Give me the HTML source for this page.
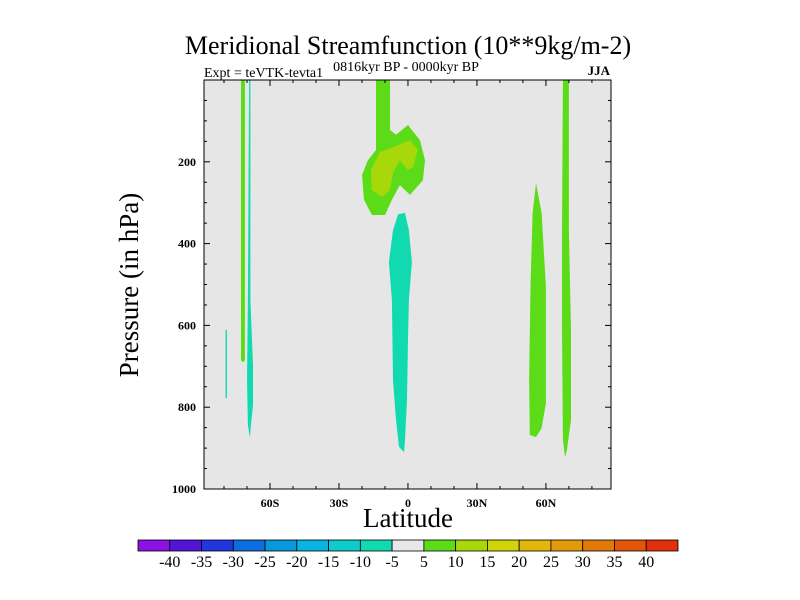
<!DOCTYPE html>
<html><head><meta charset="utf-8"><style>
body{margin:0;background:#fff;}
svg{display:block;font-family:"Liberation Serif",serif;}
</style></head><body>
<svg id="c" width="800" height="600" xmlns="http://www.w3.org/2000/svg">
<text x="408" y="54" font-size="26" text-anchor="middle">Meridional Streamfunction (10**9kg/m-2)</text>
<text x="204" y="77" font-size="14">Expt = teVTK-tevta1</text>
<text x="406" y="71" font-size="14" text-anchor="middle">0816kyr BP - 0000kyr BP</text>
<text x="610" y="75" font-size="13" text-anchor="end" font-weight="bold">JJA</text>
<text x="408" y="527" font-size="27" text-anchor="middle">Latitude</text>
<text transform="translate(138,285) rotate(-90)" font-size="27" text-anchor="middle">Pressure (in hPa)</text>
<g id="plot"></g>
<g id="cbar"></g>
</svg>
<script>
const latMin=-88.7, latMax=88.3, pTop=0, pBot=1000;
const X0=204, X1=611, Y0=80, Y1=489;
const xTickVals=[-60,-30,0,30,60];
const xTickLabels=["60S","30S","0","30N","60N"];
const yTickVals=[200,400,600,800,1000];
const levels=[-40,-35,-30,-25,-20,-15,-10,-5,5,10,15,20,25,30,35,40];
const levelColors=["#8a12e2","#5414d8","#2236de","#0c6ede","#0a98dc","#0ab4e2","#0ccccc","#12dab0","#e8e8e8","#5cdc18","#a6d80a","#d2d40a","#e2b60a","#e29a0a","#e27a0a","#e2560a","#e2300a"];
const regionBands=[9,10,7,7,9,9,7,9];
const regionShapes=[
 [[-13.9,0],[-7.8,0],[-7.8,122],[-5.2,134],[0,110],[5.2,147],[7.4,196],[6.5,245],[0.9,281],[-3.5,257],[-7.0,293],[-10,330],[-15.7,330],[-19.1,293],[-20,232],[-17.4,196],[-13.9,171]],
 [[-16.1,220],[-12.2,176],[-6.5,164],[0.9,147],[4.3,171],[2.2,213],[0,220],[-3.5,196],[-6.5,227],[-7.8,269],[-11.3,286],[-15.7,269]],
 [[-4.3,328],[-1.3,325],[0.4,367],[1.7,445],[0.4,538],[0,636],[-0.4,782],[-1.3,880],[-1.7,910],[-3.9,897],[-5.2,831],[-6.5,734],[-7.0,538],[-8.3,445],[-6.5,367]],
 [[-69.1,0],[-68.5,0],[-68.5,538],[-67.4,697],[-67.4,795],[-68.3,844],[-68.7,875],[-69.6,844],[-70,734],[-69.6,538]],
 [[-72.6,0],[-70.9,0],[-70.9,685],[-71.7,690],[-72.6,685]],
 [[55.7,252],[58.1,325],[60,506],[60,790],[58.1,851],[55.7,873],[53,868],[52.7,734],[53.3,506],[54.2,325]],
 [[-79.3,611],[-78.7,611],[-78.7,778],[-79.3,778]],
 [[67.4,0],[70,0],[70,367],[70.9,611],[70.9,831],[69.1,905],[68.3,922],[67.4,880],[67,611],[67,367]]
];
const ns="http://www.w3.org/2000/svg";
const xs=l=>X0+(l-latMin)/(latMax-latMin)*(X1-X0);
const ys=p=>Y0+(p-pTop)/(pBot-pTop)*(Y1-Y0);
function mk(t,a,parent){const e=document.createElementNS(ns,t);for(const k in a)e.setAttribute(k,a[k]);parent.appendChild(e);return e;}
const plot=document.getElementById('plot');
const bg=mk('rect',{x:X0,y:Y0,width:X1-X0,height:Y1-Y0,fill:'#e6e6e6'},plot);


regionShapes.forEach((s,i)=>{
 const pg=mk('polygon',{points:s.map(q=>xs(q[0]).toFixed(1)+','+ys(q[1]).toFixed(1)).join(' '),fill:levelColors[regionBands[i]]},plot);
 
 
});
const fr=mk('rect',{x:X0,y:Y0,width:X1-X0,height:Y1-Y0,fill:'none',stroke:'#000','stroke-width':1},plot);


for(let l=-80;l<=80;l+=10){const x=xs(l);const maj=l%30===0;
 mk('line',{x1:x,x2:x,y1:Y1,y2:Y1-(maj?6:3),stroke:'#000'},plot);
 mk('line',{x1:x,x2:x,y1:Y0,y2:Y0+(maj?6:3),stroke:'#000'},plot);}
xTickVals.forEach((v,i)=>{const t=mk('text',{x:xs(v),y:Y1+18,'font-size':12,'text-anchor':'middle','font-weight':'bold'},plot);t.textContent=xTickLabels[i];
 
 });
for(let p=50;p<=1000;p+=50){const y=ys(p);const maj=p%200===0;
 mk('line',{x1:X0,x2:X0+(maj?6:3),y1:y,y2:y,stroke:'#000'},plot);
 mk('line',{x1:X1,x2:X1-(maj?6:3),y1:y,y2:y,stroke:'#000'},plot);}
yTickVals.forEach(v=>{const t=mk('text',{x:196,y:ys(v)+4,'font-size':12,'text-anchor':'end','font-weight':'bold'},plot);t.textContent=v;
 
 });
const cb=document.getElementById('cbar');const CX0=138,CX1=678,CY=540,CH=11;const w=(CX1-CX0)/levelColors.length;
levelColors.forEach((c,i)=>{const r=mk('rect',{x:CX0+i*w,y:CY,width:w,height:CH,fill:c,stroke:'#000','stroke-width':0.8},cb);
 
 });
levels.forEach((v,i)=>{const t=mk('text',{x:CX0+(i+1)*w,y:CY+CH+16,'font-size':16,'text-anchor':'middle'},cb);t.textContent=v;
 
 });
</script>
</body></html>
